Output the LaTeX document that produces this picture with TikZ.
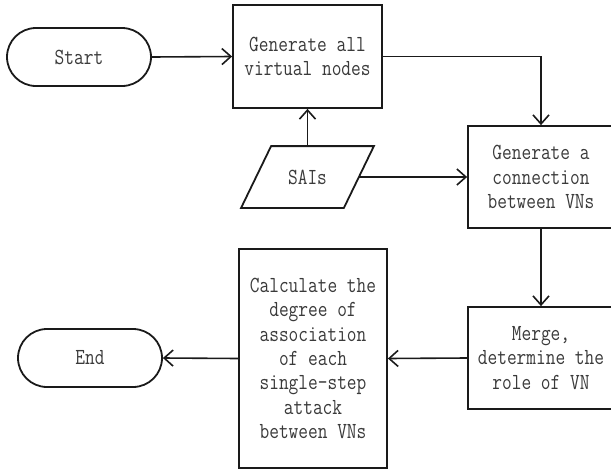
\documentclass[tikz,border=0pt]{standalone}
\usepackage{fontspec}
\setmonofont[FakeStretch=0.82]{Latin Modern Mono}
\usetikzlibrary{arrows.meta}
\definecolor{ink}{HTML}{1A1A1A}
\definecolor{txt}{HTML}{3A3A3A}
\tikzset{
  every picture/.style={x=1pt,y=-1pt},
  base/.style={draw=ink, line width=1.8pt, inner sep=0pt, align=center,
    text=txt, font=\ttfamily\fontsize{23}{24.3}\selectfont},
  procbox/.style={base, rectangle},
  terminal/.style={base, rectangle, rounded corners=29pt,
    minimum width=144pt, minimum height=58pt},
  flow/.style={draw=ink, line width=1.6pt,
    -{Straight Barb[length=9pt,width=16pt,line width=1.6pt]}},
}
\begin{document}
\begin{tikzpicture}
\useasboundingbox (0,0) rectangle (611,469);

% terminals
\node[terminal] (start) at (79,57) {Start};
\node[terminal] (end)   at (90,358) {End};

% process steps
\node[procbox, minimum width=149pt, minimum height=103pt] (gen) at (307.5,56.5)
  {Generate all\\virtual nodes};
\node[procbox, minimum width=146pt, minimum height=102pt] (conn) at (541,177)
  {Generate a\\connection\\between VNs};
\node[procbox, minimum width=146pt, minimum height=102pt] (merge) at (541,358)
  {Merge,\\determine the\\role of VN};
\node[procbox, minimum width=148pt, minimum height=219pt] (calc) at (313,358.5)
  {Calculate the\\degree of\\association\\of each\\single-step\\attack\\between VNs};

% input data (parallelogram)
\node[base, draw=none, minimum width=101pt, minimum height=60pt] (sai) at (307.5,177) {SAIs};
\draw[draw=ink, line width=1.8pt, line join=miter]
  ([xshift=15pt]sai.north west) -- ([xshift=15pt]sai.north east)
  -- ([xshift=-15pt]sai.south east) -- ([xshift=-15pt]sai.south west) -- cycle;

% connectors
\draw[flow] (start.east) -- (gen.west);
\draw[flow] (gen.east) -| (conn.north);
\draw[flow] (sai.north) -- (gen.south);
\draw[flow] (sai.east) -- (conn.west);
\draw[flow] (conn.south) -- (merge.north);
\draw[flow] (merge.west) -- (calc.east);
\draw[flow] (calc.west) -- (end.east);
\end{tikzpicture}
\end{document}
